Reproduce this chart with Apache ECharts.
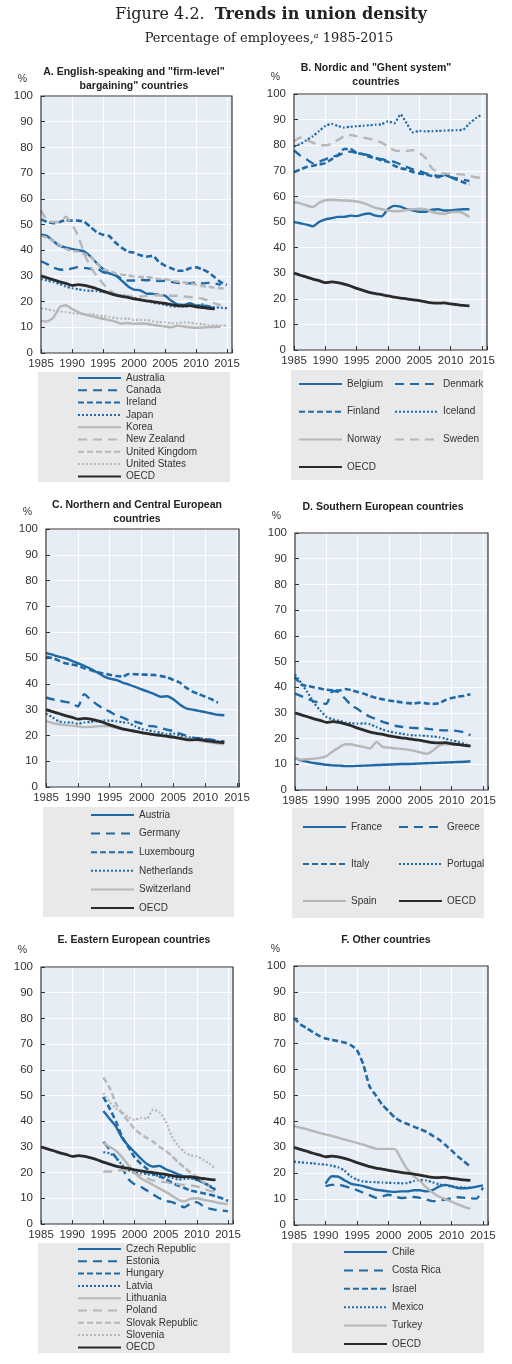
<!DOCTYPE html>
<html lang="en">
<head>
<meta charset="UTF-8">
<title>Trends in union density</title>
<script src="https://cdn.jsdelivr.net/npm/echarts@6/dist/echarts.min.js"></script>
<style>html, body { margin: 0; padding: 0; background: #fff; }</style>
</head>
<body>
<div id="main" style="width: 512px; height: 1364px;"></div>
<script>
// ---- data (percentage of employees) ----
const oecd        = [30, 29.2, 28.5, 27.7, 27.1, 26.3, 26.6, 26.3, 25.7, 25, 24.1, 23.3, 22.5, 22, 21.6, 21.1, 20.7, 20.3, 20, 19.6, 19.3, 18.8, 18.4, 18.3, 18.4, 18, 17.7, 17.4, 17.2];

// A. English-speaking
const australia   = [46, 45.5, 43.5, 41.8, 41, 40.5, 40, 39.5, 37.5, 35, 32.7, 31, 30.3, 28.2, 26, 24.7, 24.4, 23.1, 23, 22.6, 22.3, 20.3, 18.9, 18.7, 19.4, 18.4, 18.4, 18.2, 17.1];
const canada      = [35.7, 34.6, 33.2, 32.5, 32.4, 32.9, 33.4, 33.1, 32.8, 32.9, 31.5, 30.8, 30.2, 29, 28.2, 28.2, 28.5, 28.3, 28.5, 28, 28.1, 27.7, 27.3, 27.1, 27.1, 27.4, 27.1, 27.3, 27.1, 26.5];
const ireland     = [52, 51, 50.5, 51, 51.7, 51.5, 51.5, 51, 49, 47, 46, 45.5, 43, 41, 39.5, 39, 38, 37.5, 37.8, 35.5, 34, 33, 32, 32, 33, 33.3, 32.6, 31.4, 29.5, 27.5, 26.5];
const japan       = [28.8, 28.2, 27.6, 26.8, 25.9, 25.2, 24.8, 24.4, 24.2, 24.1, 23.8, 23.2, 22.6, 22.4, 22.2, 21.5, 20.9, 20.3, 19.6, 19.2, 18.8, 18.1, 18.1, 18, 18.5, 18.4, 18.9, 18, 17.8, 17.6, 17.4];
const korea       = [12.4, 12.3, 13.8, 17.8, 18.6, 17.2, 15.9, 15, 14.5, 13.8, 13.3, 12.8, 12.2, 11.4, 11.7, 11.4, 11.5, 11.4, 11, 10.6, 10.3, 10, 10.6, 10.3, 10, 9.8, 9.9, 10.1, 10.1, 10.3];
const newZealand  = [55.5, 51.5, 51, 51, 53, 50, 45.5, 38.5, 33.5, 30, 27, 24.5, 23, 22.5, 22, 22, 22, 22.2, 22.4, 22.5, 22.5, 22.3, 22.2, 22, 21.8, 21.6, 21.2, 20.3, 19.3, 18.6];
const unitedKingdom = [45.5, 45, 43.5, 42, 40.5, 39.7, 39.5, 38.5, 37.5, 35, 32.5, 32, 31, 30.5, 30.2, 29.8, 29.6, 29.6, 29.3, 28.8, 28.7, 28.3, 27.8, 27.5, 27.2, 26.6, 26, 25.8, 25.4, 25.2, 24.9];
const unitedStates  = [17.4, 17, 16.5, 16.2, 15.9, 15.5, 15.2, 15.1, 15, 14.8, 14.3, 14, 13.6, 13.4, 13.4, 12.9, 12.9, 12.8, 12.4, 12, 12, 11.5, 11.6, 11.9, 11.8, 11.4, 11.3, 10.8, 10.8, 10.7, 10.6];

// B. Nordic
const belgium     = [50, 49.5, 49, 48.3, 50, 51, 51.5, 52, 52, 52.5, 52.3, 53, 53.3, 52.5, 52.2, 55, 56.3, 56, 55, 54.5, 54, 54, 54.8, 55, 54.5, 54.5, 54.8, 55, 55];
const denmark     = [78, 76, 74.5, 73, 73.5, 74.5, 75.5, 76, 77, 77.5, 77, 76.5, 76, 75, 74.5, 74, 73.5, 72.5, 71.5, 70.5, 70, 69, 68.5, 68, 68, 67.5, 67, 66.5, 66];
const finland     = [69.5, 70.5, 71.5, 72, 72.5, 73, 74.5, 76, 78.5, 78.5, 77, 76.5, 75.5, 75, 74, 73.5, 72, 71, 70.5, 69.5, 69, 68.5, 68, 67.5, 68.5, 67.5, 66.5, 65.5, 64.5];
const iceland     = [79.5, 80.5, 82, 83.5, 85.5, 87.5, 88.3, 87.5, 86.9, 87.2, 87.4, 87.6, 87.8, 88, 88.2, 89.3, 88.6, 92, 88.5, 85, 85.6, 85.4, 85.5, 85.6, 85.7, 85.8, 85.9, 86.1, 88.5, 90.5, 92];
const norway      = [57.8, 57.3, 56.5, 55.8, 57.5, 58.5, 58.7, 58.5, 58.4, 58.3, 58, 57.5, 56.5, 55.5, 55, 54.5, 54.2, 54.3, 54.7, 55, 55.2, 55, 54, 53.4, 53.2, 53.8, 54, 53.5, 52];
const sweden      = [81.5, 83, 82, 81, 80, 80, 80.5, 82, 83.5, 84, 83.5, 83, 82.5, 82, 81, 79.5, 78, 77.7, 77.8, 78, 77, 75, 71, 69.5, 69, 68.8, 68.7, 68.5, 68, 67.5, 67.3];

// C. Northern and Central European
const austria     = [52, 51.3, 50.5, 49.9, 49, 48, 47, 45.8, 44.5, 43, 42, 41.5, 40.5, 39.7, 38.8, 37.8, 37, 36, 35, 35.2, 34, 32, 30.5, 30, 29.5, 29, 28.5, 28, 27.8];
const germany     = [34.7, 34, 33.5, 33, 32.5, 31.2, 36, 33.9, 32, 30.4, 29.2, 27.8, 27, 25.9, 25.3, 24.6, 23.7, 23.5, 22.9, 22.2, 21.7, 20.7, 19.9, 19.1, 18.9, 18.6, 18.3, 17.9, 17.7];
const luxembourg  = [50.5, 50, 49, 48, 47.5, 47, 46, 45.3, 44.5, 44, 43.5, 43, 42.8, 43.8, 43.7, 43.6, 43.5, 43.4, 43, 42.5, 41.5, 40.5, 38.5, 37, 36, 35, 34, 32.7];
const netherlands = [28.5, 27, 25.5, 25, 25, 24.5, 25, 25.2, 25.5, 25.7, 25.7, 25.5, 25.1, 24.8, 23.5, 22.5, 22, 21.5, 21, 20.5, 20.7, 20, 19.3, 19.1, 19, 18.6, 18.3, 17.8, 17.6];
const switzerland = [25.5, 24.8, 24.3, 24, 23.8, 23.5, 23.2, 23.3, 23.5, 23.6, 23.5, 22.9, 22.4, 22, 21.5, 20.9, 20.5, 20.2, 20, 19.8, 19.5, 19.1, 18.7, 18.5, 18, 17.6, 17.2, 16.8, 16.5];

// D. Southern European
const france      = [12.5, 11.5, 11, 10.5, 10.2, 9.8, 9.6, 9.5, 9.3, 9.3, 9.4, 9.5, 9.6, 9.7, 9.8, 9.9, 10, 10.1, 10.1, 10.2, 10.3, 10.4, 10.5, 10.6, 10.7, 10.8, 10.9, 11, 11.2];
const greece      = [37.5, 36.5, 35.5, 34.5, 34, 33.5, 38.5, 38, 35.5, 33, 31.5, 29.8, 28.5, 27.5, 26.5, 25.8, 25, 24.6, 24.3, 24.1, 24, 23.9, 23.5, 23.3, 23.2, 23.2, 22.9, 22.4, 21.3];
const italy       = [44, 41, 40.5, 40, 39.5, 39, 38.8, 38.7, 39.3, 38.8, 38.1, 37.5, 36.5, 35.8, 35.3, 34.8, 34.5, 34.1, 33.8, 33.7, 34, 33.7, 33.5, 33.8, 35, 35.8, 36.3, 36.7, 37.3];
const portugal    = [45, 41.5, 38, 34, 31, 28.5, 27.5, 27, 26.3, 26, 25.8, 25.9, 25.6, 24.5, 23.5, 22.8, 22.3, 21.9, 21.5, 21.2, 21.2, 21, 20.8, 20.5, 20, 19.3, 18.8, 18, 17];
const spain       = [12.5, 11.8, 12, 12.2, 12.5, 13.2, 15, 16.5, 17.8, 17.7, 17.2, 16.7, 16.2, 18.7, 16.8, 16.5, 16.2, 16, 15.7, 15.2, 14.6, 14.1, 15.3, 17.3, 17.8, 17.8, 17.6, 17.3, 16.9];

// E. Eastern European (from 1995)
const czechRepublic = [44, 41, 38, 33.5, 30.5, 28, 25.5, 23.3, 22.3, 22.6, 21.3, 20.4, 19.3, 18.5, 18.3, 17.2, 16.2, 14.8, 13.2];
const estonia       = [32, 29, 26, 22, 17.5, 15.5, 14.5, 13, 11.5, 10, 9, 8.5, 7.5, 6.5, 8, 8.5, 7, 6, 5.5, 5.2, 5];
const hungary       = [49.5, 45, 40, 34, 30, 26, 23.5, 21.5, 19.5, 18.5, 17.5, 16, 15, 14, 13, 12.5, 12, 11.5, 10.8, 10, 9];
const latvia        = [28, 27.5, 26, 23, 21, 20, 19.7, 19.4, 19, 18.8, 18.5, 18, 17.3, 17.5, 17.8, 17, 16.3, 15, 13.5];
const lithuania     = [31.5, 30, 28.5, 26, 23, 20, 17.8, 16.5, 15.2, 13.8, 12.5, 11, 9.5, 8.8, 9.8, 10, 9.5, 9, 8.5, 8, 7.7];
const poland        = [20.4, 20.4, 20.5, 21, 20.5, 19.7, 18.8, 17.8, 17, 16.5, 16.3, 15.8, 15.5, 15.2, 15, 14.6, 13.8, 13, 12.5];
const slovakRepublic = [57, 53, 47, 43, 40, 37, 35, 33.5, 32, 30, 28.5, 26.5, 24, 22, 20, 18.5, 16.5, 14.5];
const slovenia      = [51, 47.5, 45, 43.5, 41.5, 40.5, 41.3, 41, 44.5, 43.5, 40, 34, 30.5, 28, 26.7, 26.3, 25, 23.5, 21.5];

// F. Other countries
const israel      = [80, 77.5, 76, 74.5, 73, 72, 71.5, 71, 70.5, 69.5, 67.5, 62, 53.5, 50, 46.5, 44, 41.5, 40, 39, 38, 37, 36, 34.5, 33, 31, 28.8, 26.5, 24.5, 22.5];
const mexico      = [24.5, 24.2, 24, 23.8, 23.5, 23.3, 22.9, 22.3, 21, 18.8, 17.5, 16.8, 16.6, 16.5, 16.4, 16.3, 16.2, 16.1, 16.2, 17, 17.4, 17.2, 16.5, 15.7, 15.3, 14.8, 14.6, 14.4, 14.3];
const turkey      = [38.2, 37.6, 37, 36.3, 35.6, 35, 34.4, 33.7, 33, 32.4, 31.7, 31, 30.2, 29.5, 29.4, 29.4, 29.4, 25.5, 21.5, 19, 17, 14.5, 12.5, 11, 10, 9, 8, 7, 6.3];
const chile       = [16, 18.8, 18.7, 17.3, 16, 15.5, 15, 14.3, 13.6, 13.3, 13, 12.8, 13, 13, 13.4, 13.4, 13, 13.5, 14.8, 15.5, 15, 14.3, 14.2, 14.4, 14.8, 15.3];
const costaRica   = [15, 15.5, 15.5, 15, 14.3, 13.5, 12.5, 11.5, 10.5, 11, 11.7, 11, 10.4, 10.6, 10.8, 10.5, 9.8, 9.2, 9.4, 9.8, 10.3, 10.7, 10.5, 10.3, 10.2, 14.5];

// ---- styles ----
const SANS = "'Liberation Sans Narrow', 'Arial Narrow', 'Liberation Sans', Arial, sans-serif";
const SERIF = "'DejaVu Serif', serif";
const BLUE = '#1f6aa6', GREY = '#b7b7b7', DARK = '#2a2a2a', TEXT = '#333';
const PLOT_BG = '#e7edf5', LEGEND_BG = '#e9e9ea';

const styles = {
    blueSolid: { color: BLUE, type: 'solid', width: 2.4 },
    blueLong:  { color: BLUE, type: [9, 6], width: 2.4 },
    blueDash:  { color: BLUE, type: [6, 3], width: 2.6 },
    blueDot:   { color: BLUE, type: [2, 2], width: 2.2 },
    greySolid: { color: GREY, type: 'solid', width: 2.4 },
    greyLong:  { color: GREY, type: [9, 6], width: 2.4 },
    greyDash:  { color: GREY, type: [6, 3], width: 2.4 },
    greyDot:   { color: GREY, type: [2, 2], width: 2.2 },
    oecd:      { color: DARK, type: 'solid', width: 2.8 }
};

const panels = [
    {
        title: 'A. English-speaking and "firm-level"\nbargaining" countries', tx: 134, ty: 65,
        grid: { left: 41, top: 96, width: 191, height: 257 }, xMax: 2015.8,
        lines: [
            ['Australia', 'blueSolid', 1985, australia],
            ['Canada', 'blueLong', 1985, canada],
            ['Ireland', 'blueDash', 1985, ireland],
            ['Japan', 'blueDot', 1985, japan],
            ['Korea', 'greySolid', 1985, korea],
            ['New Zealand', 'greyLong', 1985, newZealand],
            ['United Kingdom', 'greyDash', 1985, unitedKingdom],
            ['United States', 'greyDot', 1985, unitedStates],
            ['OECD', 'oecd', 1985, oecd]
        ],
        box: [38, 372, 192, 110],
        legends: [{ left: 77, top: 372, gap: 0.3, names: ['Australia', 'Canada', 'Ireland', 'Japan', 'Korea', 'New Zealand', 'United Kingdom', 'United States', 'OECD'] }]
    },
    {
        title: 'B. Nordic and "Ghent system"\ncountries', tx: 376, ty: 61,
        grid: { left: 294, top: 94, width: 193, height: 256 }, xMax: 2015.8,
        lines: [
            ['Belgium', 'blueSolid', 1985, belgium],
            ['Denmark', 'blueLong', 1985, denmark],
            ['Finland', 'blueDash', 1985, finland],
            ['Iceland', 'blueDot', 1985, iceland],
            ['Norway', 'greySolid', 1985, norway],
            ['Sweden', 'greyLong', 1985, sweden],
            ['OECD', 'oecd', 1985, oecd]
        ],
        box: [291, 370, 192, 110],
        legends: [
            { left: 298, top: 378, gap: 15.7, names: ['Belgium', 'Finland', 'Norway', 'OECD'] },
            { left: 394, top: 378, gap: 15.7, names: ['Denmark', 'Iceland', 'Sweden'] }
        ]
    },
    {
        title: 'C. Northern and Central European\ncountries', tx: 137, ty: 498,
        grid: { left: 46, top: 529, width: 193, height: 258 }, xMax: 2015.3,
        lines: [
            ['Austria', 'blueSolid', 1985, austria],
            ['Germany', 'blueLong', 1985, germany],
            ['Luxembourg', 'blueDash', 1985, luxembourg],
            ['Netherlands', 'blueDot', 1985, netherlands],
            ['Switzerland', 'greySolid', 1985, switzerland],
            ['OECD', 'oecd', 1985, oecd]
        ],
        box: [43, 807, 191, 110],
        legends: [{ left: 90, top: 809, gap: 6.6, names: ['Austria', 'Germany', 'Luxembourg', 'Netherlands', 'Switzerland', 'OECD'] }]
    },
    {
        title: 'D. Southern European countries', tx: 383, ty: 500,
        grid: { left: 295, top: 533, width: 193, height: 257 }, xMax: 2015.8,
        lines: [
            ['France', 'blueSolid', 1985, france],
            ['Greece', 'blueLong', 1985, greece],
            ['Italy', 'blueDash', 1985, italy],
            ['Portugal', 'blueDot', 1985, portugal],
            ['Spain', 'greySolid', 1985, spain],
            ['OECD', 'oecd', 1985, oecd]
        ],
        box: [292, 808, 192, 110],
        legends: [
            { left: 302, top: 821, gap: 25, names: ['France', 'Italy', 'Spain'] },
            { left: 398, top: 821, gap: 25, names: ['Greece', 'Portugal', 'OECD'] }
        ]
    },
    {
        title: 'E. Eastern European countries', tx: 134, ty: 933,
        grid: { left: 41, top: 967, width: 192, height: 257 }, xMax: 2015.8,
        lines: [
            ['Czech Republic', 'blueSolid', 1995, czechRepublic],
            ['Estonia', 'blueLong', 1995, estonia],
            ['Hungary', 'blueDash', 1995, hungary],
            ['Latvia', 'blueDot', 1995, latvia],
            ['Lithuania', 'greySolid', 1995, lithuania],
            ['Poland', 'greyLong', 1995, poland],
            ['Slovak Republic', 'greyDash', 1995, slovakRepublic],
            ['Slovenia', 'greyDot', 1995, slovenia],
            ['OECD', 'oecd', 1985, oecd]
        ],
        box: [38, 1243, 192, 110],
        legends: [{ left: 77, top: 1243, gap: 0.3, names: ['Czech Republic', 'Estonia', 'Hungary', 'Latvia', 'Lithuania', 'Poland', 'Slovak Republic', 'Slovenia', 'OECD'] }]
    },
    {
        title: 'F. Other countries', tx: 386, ty: 933,
        grid: { left: 294, top: 966, width: 194, height: 259 }, xMax: 2015.8,
        lines: [
            ['Chile', 'blueSolid', 1990, chile],
            ['Costa Rica', 'blueLong', 1990, costaRica],
            ['Israel', 'blueDash', 1985, israel],
            ['Mexico', 'blueDot', 1985, mexico],
            ['Turkey', 'greySolid', 1985, turkey],
            ['OECD', 'oecd', 1985, oecd]
        ],
        box: [292, 1243, 192, 110],
        legends: [{ left: 343, top: 1246, gap: 6.4, names: ['Chile', 'Costa Rica', 'Israel', 'Mexico', 'Turkey', 'OECD'] }]
    }
];

// ---- build option ----
const grids = [], xAxes = [], yAxes = [], series = [], legends = [], graphics = [];
const titles = [
    {
        text: '{n|Figure 4.2.  }{b|Trends in union density}',
        left: 271, top: 7, textAlign: 'center', padding: 0,
        textStyle: { fontWeight: 'normal', rich: {
            n: { fontFamily: SERIF, fontSize: 16, fontWeight: 'normal', color: '#222' },
            b: { fontFamily: SERIF, fontSize: 16, fontWeight: 'bold', color: '#222' }
        } }
    },
    {
        text: '{t|Percentage of employees,}{s|a}{t| 1985-2015}',
        left: 269, top: 32, textAlign: 'center', padding: 0,
        textStyle: { fontWeight: 'normal', rich: {
            t: { fontFamily: SERIF, fontSize: 13, fontWeight: 'normal', color: '#222' },
            s: { fontFamily: SERIF, fontSize: 8, fontWeight: 'normal', fontStyle: 'italic', color: '#222', verticalAlign: 'top' }
        } }
    }
];

panels.forEach((p, i) => {
    grids.push(Object.assign({ show: true, backgroundColor: PLOT_BG, borderWidth: 0 }, p.grid));
    xAxes.push({
        type: 'value', gridIndex: i, min: 1985, max: p.xMax, interval: 5,
        axisLine: { show: false },
        axisTick: { show: true, inside: true, length: 4, lineStyle: { color: '#333', width: 1 } },
        axisLabel: { color: TEXT, fontFamily: SANS, fontSize: 11.5, margin: 5,
            formatter: v => (v % 5 === 0 ? String(v) : '') },
        splitLine: { show: true, lineStyle: { color: '#fff', width: 1.2 } }
    });
    yAxes.push({
        type: 'value', gridIndex: i, min: 0, max: 100, interval: 10,
        name: '%', nameLocation: 'end', nameGap: 11,
        nameTextStyle: { color: TEXT, fontFamily: SANS, fontSize: 10.5, align: 'right', padding: [0, 14, 0, 0] },
        axisLine: { show: false },
        axisTick: { show: true, inside: true, length: 4, lineStyle: { color: '#333', width: 1 } },
        axisLabel: { color: TEXT, fontFamily: SANS, fontSize: 11.5, margin: 8 },
        splitLine: { show: true, lineStyle: { color: '#fff', width: 1.2 } }
    });
    titles.push({
        text: p.title, left: p.tx, top: p.ty, textAlign: 'center', padding: 0,
        textStyle: { fontFamily: SANS, fontSize: 10.5, fontWeight: 'bold', color: '#222', lineHeight: 14 }
    });
    p.lines.forEach(([name, key, start, values]) => {
        const s = styles[key];
        series.push({
            name, type: 'line', xAxisIndex: i, yAxisIndex: i,
            symbol: 'none', smooth: 0.2, silent: true,
            lineStyle: { color: s.color, type: s.type, width: s.width, cap: 'butt' },
            itemStyle: { color: s.color },
            data: values.map((v, k) => [start + k, v])
        });
    });
    graphics.push({
        type: 'rect', z: 1, silent: true,
        shape: { x: p.box[0], y: p.box[1], width: p.box[2], height: p.box[3] },
        style: { fill: LEGEND_BG }
    });
    graphics.push({
        type: 'rect', z: 100, silent: true,
        shape: { x: p.grid.left, y: p.grid.top, width: p.grid.width, height: p.grid.height },
        style: { fill: null, stroke: '#333', lineWidth: 1.2 }
    });
    p.legends.forEach(l => {
        legends.push({
            orient: 'vertical', left: l.left, top: l.top, padding: 0,
            itemGap: l.gap, itemWidth: 43, itemHeight: 12,
            selectedMode: false, data: l.names,
            itemStyle: { opacity: 0, borderWidth: 0 },
            textStyle: { color: TEXT, fontFamily: SANS, fontSize: 10, lineHeight: 12 }
        });
    });
});

const myChart = echarts.init(document.getElementById('main'));
myChart.setOption({
    backgroundColor: '#fff',
    animation: false,
    title: titles,
    grid: grids,
    xAxis: xAxes,
    yAxis: yAxes,
    legend: legends,
    graphic: graphics,
    series
});
</script>
</body>
</html>
